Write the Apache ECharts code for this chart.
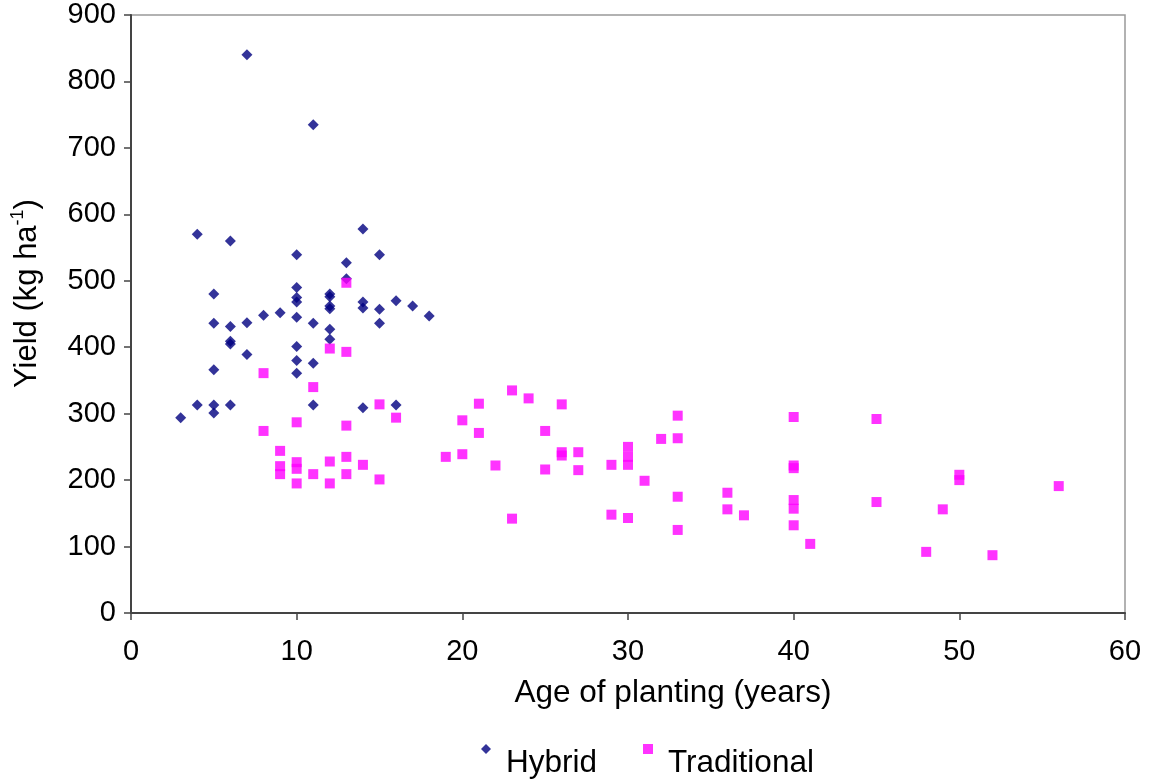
<!DOCTYPE html>
<html>
<head>
<meta charset="utf-8">
<script src="https://cdn.jsdelivr.net/npm/echarts@6/dist/echarts.min.js"></script>
<style>html,body{margin:0;padding:0;background:#fff;}#chart{width:1158px;height:783px;}</style>
</head>
<body>
<div id="chart"></div>
<script>
// Hybrid: [age (years), yield (kg/ha)]
var hybrid = [
  [3,294],[4,313],[4,570],[5,301],[5,313],[5,366],[5,436],[5,480],
  [6,313],[6,405],[6,409],[6,431],[6,560],[7,389],[7,437],[7,840],
  [8,448],[9,452],[10,361],[10,380],[10,401],[10,445],[10,468],[10,475],
  [10,490],[10,539],[11,313],[11,376],[11,436],[11,735],[12,412],[12,427],
  [12,458],[12,462],[12,476],[12,480],[13,503],[13,527],[14,309],[14,459],
  [14,468],[14,578],[15,436],[15,457],[15,539],[16,313],[16,470],[17,462],[18,447]
];
// Traditional: [age (years), yield (kg/ha)]
var traditional = [
  [8,361],[8,274],[9,244],[9,221],[9,209],[10,287],[10,227],[10,217],[10,195],
  [11,340],[11,209],[12,398],[12,228],[12,195],[13,497],[13,393],[13,282],[13,235],
  [13,209],[14,223],[15,314],[15,201],[16,294],[19,235],[20,290],[20,239],[21,315],
  [21,271],[22,222],[23,335],[23,142],[24,323],[25,274],[25,216],[26,314],[26,242],
  [26,237],[27,242],[27,215],[29,223],[29,148],[30,250],[30,235],[30,223],[30,143],
  [31,199],[32,262],[33,297],[33,263],[33,175],[33,125],[36,181],[36,156],[37,147],
  [40,295],[40,222],[40,218],[40,170],[40,157],[40,132],[41,104],[45,292],[45,167],
  [48,92],[49,156],[50,208],[50,200],[52,87],[56,191]
];
var seriesNames = ['Hybrid', 'Traditional'];
var xAxisTitle = 'Age of planting (years)';
var yAxisTitle = '{a|Yield (kg ha}{b|-1}{a|)}';

var FONT = 'Liberation Sans, Arial, sans-serif';
var chart = echarts.init(document.getElementById('chart'), null, {renderer: 'canvas'});
chart.setOption({
  animation: false,
  backgroundColor: '#ffffff',
  textStyle: {fontFamily: FONT, color: '#000'},
  grid: {
    left: 131, right: 33, top: 15, bottom: 170,
    show: true, borderColor: '#999999', borderWidth: 1.5, backgroundColor: 'transparent'
  },
  legend: {
    data: [
      {name: seriesNames[0], icon: 'diamond', itemStyle: {color: '#000080'}},
      {name: seriesNames[1], icon: 'rect', itemStyle: {color: '#ff00ff'}}
    ],
    left: 476, top: 739,
    itemWidth: 10, itemHeight: 10, itemGap: 46,
    formatter: function (name) { return '{t|' + name + '}'; },
    textStyle: {
      fontSize: 31.5, fontFamily: FONT, color: '#000',
      rich: {t: {fontSize: 31.5, fontFamily: FONT, color: '#000', padding: [28, 0, 0, 10]}}
    }
  },
  xAxis: {
    type: 'value', min: 0, max: 60, interval: 10,
    name: xAxisTitle, nameLocation: 'middle', nameGap: 64,
    nameTextStyle: {fontSize: 31.5, fontFamily: FONT, color: '#000', padding: [0, 0, 0, 90]},
    axisLine: {show: true, onZero: false, lineStyle: {color: '#444', width: 2}},
    axisTick: {show: true, inside: false, length: 7, lineStyle: {color: '#444', width: 1.5}},
    axisLabel: {fontSize: 29, fontFamily: FONT, color: '#000', margin: 24},
    splitLine: {show: false}
  },
  yAxis: {
    type: 'value', min: 0, max: 900, interval: 100,
    name: yAxisTitle, nameLocation: 'middle', nameGap: 86, nameRotate: 90,
    nameTextStyle: {
      fontFamily: FONT, color: '#000', padding: [0, 0, 0, 41],
      rich: {
        a: {fontSize: 31, fontFamily: FONT, color: '#000', lineHeight: 36},
        b: {fontSize: 18, fontFamily: FONT, color: '#000', lineHeight: 18, verticalAlign: 'top'}
      }
    },
    axisLine: {show: true, onZero: false, lineStyle: {color: '#444', width: 2}},
    axisTick: {show: true, inside: false, length: 7, lineStyle: {color: '#444', width: 1.5}},
    axisLabel: {fontSize: 29, fontFamily: FONT, color: '#000', margin: 15},
    splitLine: {show: false}
  },
  series: [
    {
      name: seriesNames[0], type: 'scatter', data: hybrid,
      symbol: 'diamond', symbolSize: 11,
      itemStyle: {color: '#000080'}, z: 3
    },
    {
      name: seriesNames[1], type: 'scatter', data: traditional,
      symbol: 'rect', symbolSize: 10,
      itemStyle: {color: '#ff00ff'}, z: 4
    }
  ]
});
</script>
</body>
</html>
